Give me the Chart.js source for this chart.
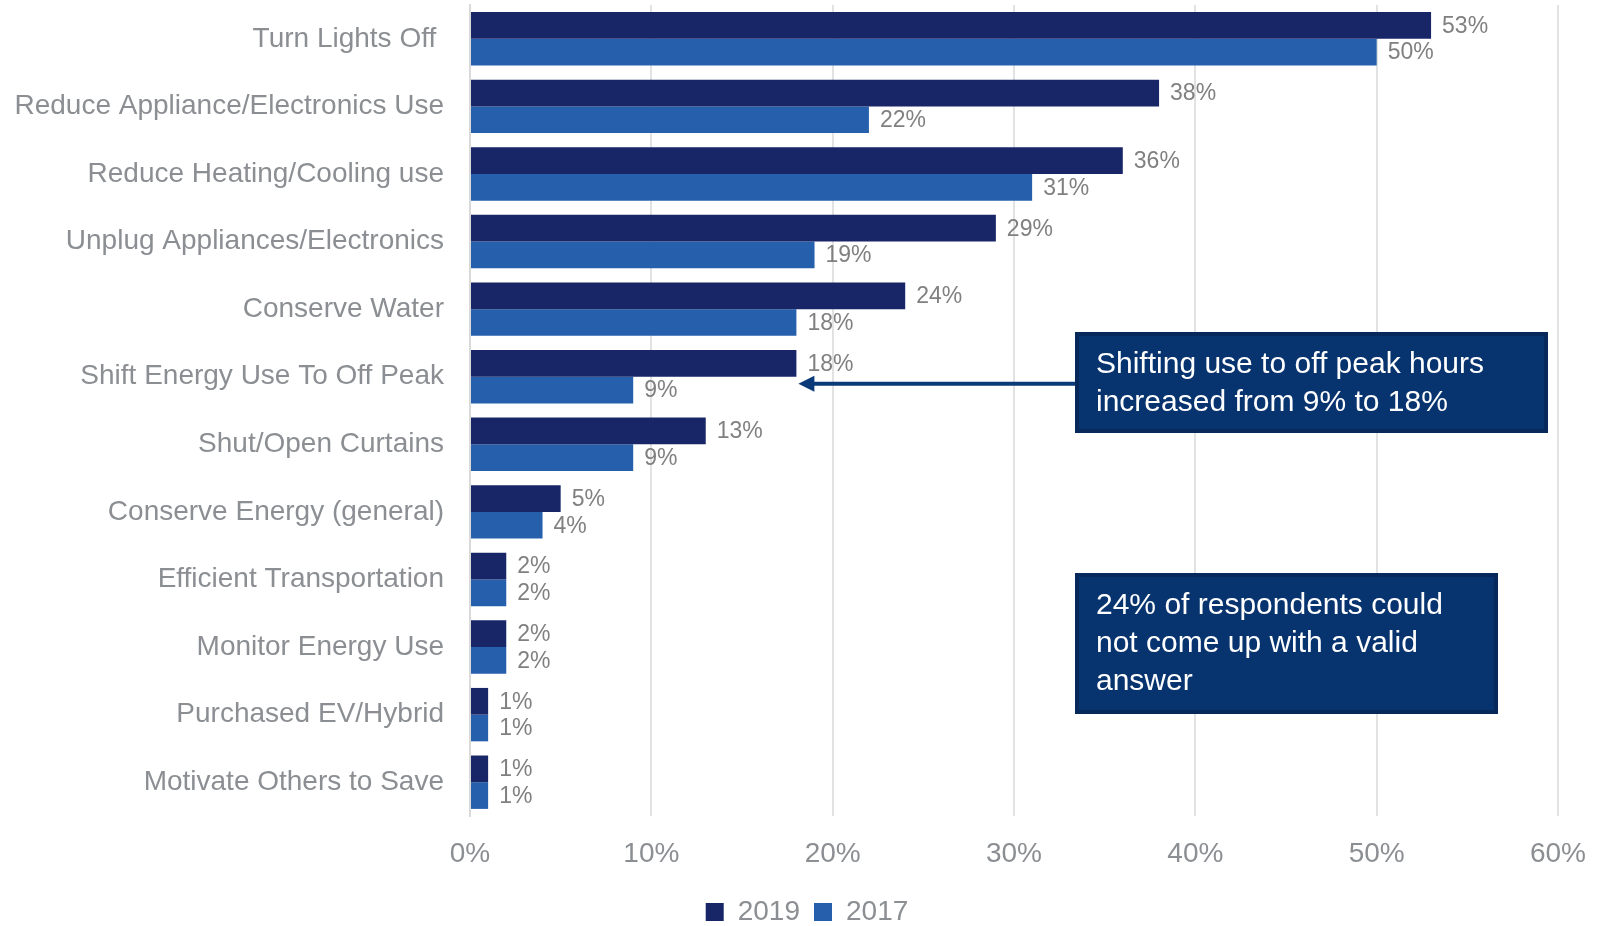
<!DOCTYPE html>
<html>
<head>
<meta charset="utf-8">
<script src="https://cdn.jsdelivr.net/npm/chart.js@4"></script>
<style>
    html, body { margin: 0; padding: 0; background: #fff; }
    #wrap { width: 1602px; height: 926px; }
</style>
</head>
<body>
<div id="wrap"><canvas id="chart"></canvas></div>
<script>
const categories = [
    'Turn Lights Off ',
    'Reduce Appliance/Electronics Use',
    'Reduce Heating/Cooling use',
    'Unplug Appliances/Electronics',
    'Conserve Water',
    'Shift Energy Use To Off Peak',
    'Shut/Open Curtains',
    'Conserve Energy (general)',
    'Efficient Transportation',
    'Monitor Energy Use',
    'Purchased EV/Hybrid',
    'Motivate Others to Save'
]
const values2019 = [53, 38, 36, 29, 24, 18, 13, 5, 2, 2, 1, 1]
const values2017 = [50, 22, 31, 19, 18, 9, 9, 4, 2, 2, 1, 1]
const xTicks = [0, 10, 20, 30, 40, 50, 60]

const noteShift = ['Shifting use to off peak hours', 'increased from 9% to 18%']
const noteInvalid = ['24% of respondents could', 'not come up with a valid', 'answer']

const grey = '#8b8e92'
const font = 'Liberation Sans, Arial, sans-serif'

// Percent labels to the right of each bar
const barLabels = {
    id: 'barLabels',
    afterDatasetsDraw(chart) {
        const ctx = chart.ctx
        ctx.save()
        ctx.font = `23px ${font}`
        ctx.fillStyle = '#808080'
        ctx.textBaseline = 'middle'
        ctx.textAlign = 'left'
        chart.data.datasets.forEach((ds, i) => {
            chart.getDatasetMeta(i).data.forEach((bar, j) => {
                ctx.fillText(ds.data[j] + '%', bar.x + 11, bar.y + 1)
            })
        })
        ctx.restore()
    }
}

// Callout boxes and the arrow to the off-peak row
const callouts = {
    id: 'callouts',
    afterLayout(chart) {
        // push the legend down and a little to the right
        chart.legend.top += 10
        chart.legend.bottom += 10
        chart.legend.left += 28
        chart.legend.right += 28
    },
    afterDraw(chart) {
        const ctx = chart.ctx
        const x = chart.scales.x
        const y = chart.scales.y

        const drawBox = (left, top, w, h, lines) => {
            ctx.fillStyle = '#07336f'
            ctx.fillRect(left, top, w, h)
            ctx.strokeStyle = '#06285a'
            ctx.lineWidth = 4
            ctx.strokeRect(left + 2, top + 2, w - 4, h - 4)
            ctx.fillStyle = '#ffffff'
            ctx.font = `30px ${font}`
            ctx.textBaseline = 'middle'
            ctx.textAlign = 'left'
            lines.forEach((t, k) => ctx.fillText(t, left + 21, top + 33 + k * 38))
        }

        ctx.save()

        // arrow
        const shiftIdx = categories.indexOf('Shift Energy Use To Off Peak')
        const tipX = x.getPixelForValue(values2019[shiftIdx]) + 2
        const ay = y.getPixelForValue(shiftIdx) + 7
        ctx.strokeStyle = '#0a3a78'
        ctx.fillStyle = '#0a3a78'
        ctx.lineWidth = 4
        ctx.beginPath()
        ctx.moveTo(1076, ay)
        ctx.lineTo(tipX + 12, ay)
        ctx.stroke()
        ctx.beginPath()
        ctx.moveTo(tipX, ay)
        ctx.lineTo(tipX + 16, ay - 8)
        ctx.lineTo(tipX + 16, ay + 8)
        ctx.closePath()
        ctx.fill()

        drawBox(1075, 332, 473, 101, noteShift)
        drawBox(1075, 573, 423, 141, noteInvalid)

        ctx.restore()
    }
}

new Chart(document.getElementById('chart'), {
    type: 'bar',
    data: {
        labels: categories,
        datasets: [
            {
                label: '2019',
                data: values2019,
                backgroundColor: '#182668',
                categoryPercentage: 0.79,
                barPercentage: 1
            },
            {
                label: '2017',
                data: values2017,
                backgroundColor: '#2660ad',
                categoryPercentage: 0.79,
                barPercentage: 1
            }
        ]
    },
    options: {
        indexAxis: 'y',
        responsive: true,
        maintainAspectRatio: false,
        animation: false,
        layout: {
            padding: { top: 5, right: 44, bottom: 0, left: 0 }
        },
        plugins: {
            legend: {
                position: 'bottom',
                labels: {
                    color: grey,
                    font: { family: font, size: 28 },
                    boxWidth: 18,
                    boxHeight: 18,
                    padding: 14
                }
            },
            tooltip: { enabled: false }
        },
        scales: {
            x: {
                min: 0,
                max: 60,
                afterBuildTicks: (scale) => {
                    scale.ticks = xTicks.map(v => ({ value: v }))
                },
                afterFit: (scale) => {
                    scale.height = 58
                    scale.paddingLeft = 0
                    scale.paddingRight = 0
                },
                ticks: {
                    color: grey,
                    font: { family: font, size: 28 },
                    padding: 21,
                    callback: (v) => v + '%'
                },
                grid: {
                    color: '#e2e2e2',
                    lineWidth: 2,
                    drawTicks: false
                },
                border: { display: false }
            },
            y: {
                afterFit: (scale) => {
                    scale.width = 470
                    scale.paddingTop = 0
                    scale.paddingBottom = 0
                },
                ticks: {
                    color: grey,
                    font: { family: font, size: 28 },
                    padding: 26
                },
                grid: { display: false, drawTicks: false },
                border: { color: '#d9d9d9', width: 2 }
            }
        }
    },
    plugins: [barLabels, callouts]
})
</script>
</body>
</html>
